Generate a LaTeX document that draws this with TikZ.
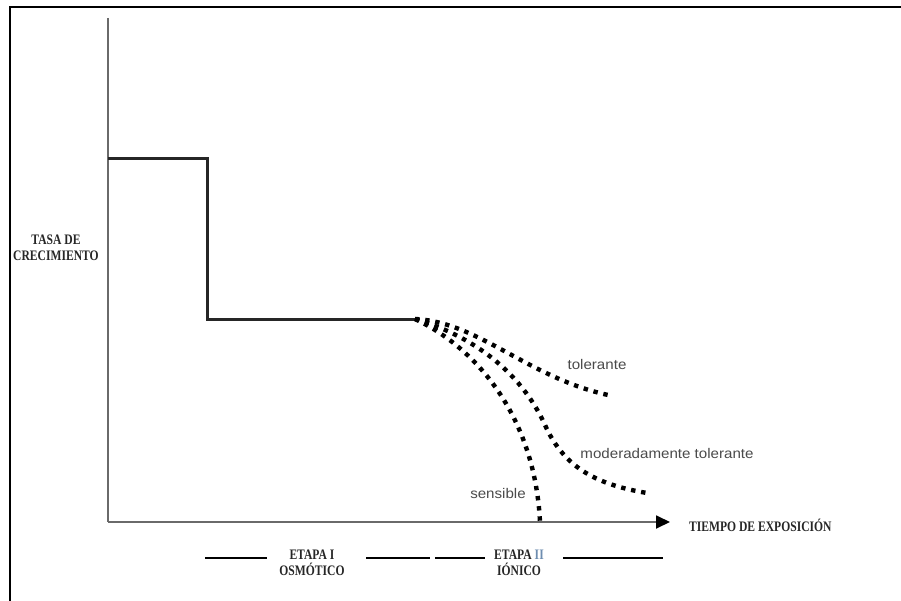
\documentclass[tikz,border=0pt]{standalone}
\usepackage{fontspec}
\setmainfont{Liberation Serif}
\newfontfamily\labsans{Liberation Sans}
\usetikzlibrary{arrows.meta}
\definecolor{axgray}{HTML}{6A6A6A}
\definecolor{txtgray}{HTML}{4A4A4A}
\definecolor{romblue}{HTML}{6E8DB0}
\tikzset{
  axlab/.style={font=\fontsize{14.5}{15.5}\selectfont\bfseries, text=black!85, xscale=0.8, inner sep=0pt, align=center},
  curvelab/.style={font=\labsans\fontsize{14}{16}\selectfont, text=txtgray, inner sep=0pt, xscale=1.08},
  axisline/.style={draw=axgray, line width=1.8pt},
  stepline/.style={draw=black!85, line width=3pt},
  dotline/.style={draw=black, line width=4.4pt, dash pattern=on 4.4pt off 5.8pt},
  stageline/.style={draw=black, line width=1.5pt},
  frameline/.style={draw=black, line width=2.2pt}
}
\begin{document}
\begin{tikzpicture}[x=1pt,y=-1pt]
\useasboundingbox (0,0) rectangle (901,601);
% frame
\draw[frameline] (10,601) -- (10,7) -- (901,7);
% axes
\coordinate (ytop) at (108,18);
\coordinate (orig) at (108,522);
\coordinate (xend) at (670,522);
\draw[axisline] (ytop) -- (orig);
\draw[axisline, -{Triangle[length=14pt,width=13pt,color=black]}] (orig) -- (xend);
% step growth line
\coordinate (s0) at (108,159);
\coordinate (s1) at (207,159);
\coordinate (s2) at (207,319);
\coordinate (fork) at (415,319);
\draw[stepline, line join=miter] (s0) -- (s1) -- (s2) -- (fork);
% dotted responses
\coordinate (tolEnd) at (613,396);
\coordinate (modMid) at (545,425);
\coordinate (modEnd) at (647,493);
\coordinate (senEnd) at (540,522);
\draw[dotline] (fork) .. controls (480,322) and (530,380) .. (tolEnd);
\draw[dotline] (fork) .. controls (470,335) and (520,370) .. (modMid)
                      .. controls (565,470) and (600,485) .. (modEnd);
\draw[dotline] (fork) .. controls (480,350) and (535,420) .. (senEnd);
% curve labels
\node[curvelab] (ltol) at (597,364) {tolerante};
\node[curvelab] (lmod) at (667,453) {moderadamente tolerante};
\node[curvelab] (lsen) at (498,493) {sensible};
% axis labels
\node[axlab] (ylab) at (56,248) {TASA DE\\CRECIMIENTO};
\node[axlab, anchor=west] (xlab) at (689,525) {TIEMPO DE EXPOSICIÓN};
% stages
\draw[stageline] (205,558) -- (267,558);
\draw[stageline] (366,558) -- (430,558);
\draw[stageline] (435,558) -- (485,558);
\draw[stageline] (563,558) -- (663,558);
\node[axlab] (st1) at (312,563) {ETAPA I\\OSMÓTICO};
\node[axlab] (st2) at (519,563) {ETAPA \textcolor{romblue}{II}\\IÓNICO};
\end{tikzpicture}
\end{document}
